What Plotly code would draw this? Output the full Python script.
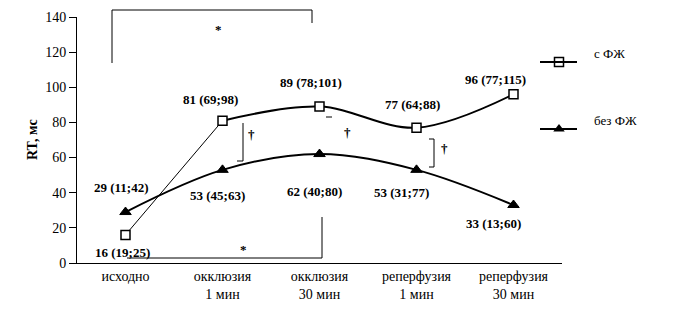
import plotly.graph_objects as go

# ---- data ----
categories = ["исходно", "окклюзия<br>1 мин", "окклюзия<br>30 мин", "реперфузия<br>1 мин", "реперфузия<br>30 мин"]
x_pos = [0.5, 1.5, 2.5, 3.5, 4.5]

with_vf = [16, 81, 89, 77, 96]          # с ФЖ
with_vf_lo = [19, 69, 78, 64, 77]
with_vf_hi = [25, 98, 101, 88, 115]

without_vf = [29, 53, 62, 53, 33]       # без ФЖ
without_vf_lo = [11, 45, 40, 31, 13]
without_vf_hi = [42, 63, 80, 77, 60]

series_names = ["с ФЖ", "без ФЖ"]
y_ticks = [0, 20, 40, 60, 80, 100, 120, 140]

# label offsets (pixels) relative to each point
with_shift = [(-3, -18), (-12, 21), (-9, 24), (-4, 23), (-18, 15)]
without_shift = [(-4, 25), (-5, -26), (-5, -37), (-15, -23), (-20, -18)]

FONT = "Liberation Serif, Times New Roman, serif"
BLACK = "black"

fig = go.Figure()

# с ФЖ: thin straight first segment, smooth rest
fig.add_trace(go.Scatter(x=x_pos[0:2], y=with_vf[0:2], mode="lines",
                         line=dict(color=BLACK, width=1), showlegend=False, hoverinfo="skip"))
fig.add_trace(go.Scatter(x=x_pos[1:], y=with_vf[1:], mode="lines",
                         line=dict(color=BLACK, width=2, shape="spline", smoothing=1),
                         showlegend=False, hoverinfo="skip"))
# без ФЖ smooth
fig.add_trace(go.Scatter(x=x_pos, y=without_vf, mode="lines",
                         line=dict(color=BLACK, width=2, shape="spline", smoothing=1),
                         showlegend=False, hoverinfo="skip"))
# markers
fig.add_trace(go.Scatter(x=x_pos, y=without_vf, mode="markers", name=series_names[1],
                         marker=dict(symbol="triangle-up", size=10, color=BLACK,
                                     line=dict(color=BLACK, width=1)),
                         showlegend=False, cliponaxis=False))
fig.add_trace(go.Scatter(x=x_pos, y=with_vf, mode="markers", name=series_names[0],
                         marker=dict(symbol="square", size=9, color="white",
                                     line=dict(color=BLACK, width=1.5)),
                         showlegend=False, cliponaxis=False))

# value labels
for xs, vals, lo, hi, shifts in [(x_pos, with_vf, with_vf_lo, with_vf_hi, with_shift),
                                 (x_pos, without_vf, without_vf_lo, without_vf_hi, without_shift)]:
    for xi, v, l, h, (dx, dy) in zip(xs, vals, lo, hi, shifts):
        fig.add_annotation(x=xi, y=v, xref="x", yref="y", text=f"<b>{v} ({l};{h})</b>",
                           showarrow=False, xshift=dx, yshift=dy,
                           xanchor="center", yanchor="middle",
                           font=dict(family=FONT, size=13, color=BLACK))

# ---- custom legend ----
def px_x(px):
    return (px - 77) / 485.0

def px_y(py):
    return (263 - py) / 246.0

legend_rows = [(62, 53, series_names[0]), (129, 120, series_names[1])]
for ly, ty, name in legend_rows:
    fig.add_shape(type="line", xref="paper", yref="paper",
                  x0=px_x(540), x1=px_x(577), y0=px_y(ly), y1=px_y(ly),
                  line=dict(color=BLACK, width=2))
    fig.add_annotation(xref="paper", yref="paper", x=px_x(592), y=px_y(ty),
                       text=name, showarrow=False, xanchor="left", yanchor="middle",
                       font=dict(family=FONT, size=13, color=BLACK))

fig.add_trace(go.Scatter(x=[(559 - 77) / 97.0], y=[(263 - 62) / 1.757], mode="markers",
                         marker=dict(symbol="square", size=9, color="white",
                                     line=dict(color=BLACK, width=1.5)),
                         showlegend=False, cliponaxis=False, hoverinfo="skip"))
fig.add_trace(go.Scatter(x=[(559 - 77) / 97.0], y=[(263 - 129) / 1.757], mode="markers",
                         marker=dict(symbol="triangle-up", size=10, color=BLACK),
                         showlegend=False, cliponaxis=False, hoverinfo="skip"))

# ---- significance brackets ----
line_style = dict(color=BLACK, width=1)
def path(points):
    s = ""
    for i, (a, b) in enumerate(points):
        s += ("M" if i == 0 else "L") + f" {a} {b} "
    return s

fig.add_shape(type="path", xref="paper", yref="paper", line=line_style,
              path=path([(px_x(112), px_y(63)), (px_x(112), px_y(10)),
                         (px_x(312), px_y(10)), (px_x(312), px_y(23))]))
fig.add_shape(type="path", xref="paper", yref="paper", line=line_style,
              path=path([(px_x(127), px_y(258)), (px_x(322), px_y(258)),
                         (px_x(322), px_y(217))]))
fig.add_shape(type="path", xref="paper", yref="paper", line=line_style,
              path=path([(px_x(243), px_y(123)), (px_x(243), px_y(161)),
                         (px_x(237), px_y(161))]))
fig.add_shape(type="line", xref="paper", yref="paper", line=line_style,
              x0=px_x(326), x1=px_x(332), y0=px_y(117), y1=px_y(117))
fig.add_shape(type="path", xref="paper", yref="paper", line=line_style,
              path=path([(px_x(429), px_y(139)), (px_x(434), px_y(139)),
                         (px_x(434), px_y(167)), (px_x(429), px_y(167))]))

for tx, ty, t in [(218, 29, "*"), (243, 249, "*"), (251, 134, "†"), (347, 132, "†"), (444, 148, "†")]:
    fig.add_annotation(xref="paper", yref="paper", x=px_x(tx), y=px_y(ty), text=f"<b>{t}</b>",
                       showarrow=False, xanchor="center", yanchor="middle",
                       font=dict(family=FONT, size=13, color=BLACK))

# y-axis title
fig.add_annotation(xref="paper", yref="paper", x=px_x(32), y=px_y(140), text="<b>RT, мс</b>",
                   textangle=-90, showarrow=False, xanchor="center", yanchor="middle",
                   font=dict(family=FONT, size=14, color=BLACK))

# the page body adds an 8px offset, so the figure is 8px smaller and margins 8px less
fig.update_layout(
    width=674, height=302,
    margin=dict(l=69, r=120, t=9, b=47, autoexpand=False),
    paper_bgcolor="white", plot_bgcolor="white",
    showlegend=False,
    font=dict(family=FONT, size=13, color=BLACK),
    xaxis=dict(range=[0, 5], tickvals=x_pos, ticktext=categories, showline=True,
               linecolor=BLACK, linewidth=1, showgrid=False, zeroline=False, ticks="",
               automargin=False, tickfont=dict(family=FONT, size=14, color=BLACK)),
    yaxis=dict(range=[0, 140], tickvals=y_ticks, showline=True, linecolor=BLACK, linewidth=1,
               showgrid=False, zeroline=False, ticks="outside", ticklen=7, tickcolor=BLACK,
               automargin=False, tickfont=dict(family=FONT, size=14, color=BLACK)),
)

fig.write_html("out.html")
